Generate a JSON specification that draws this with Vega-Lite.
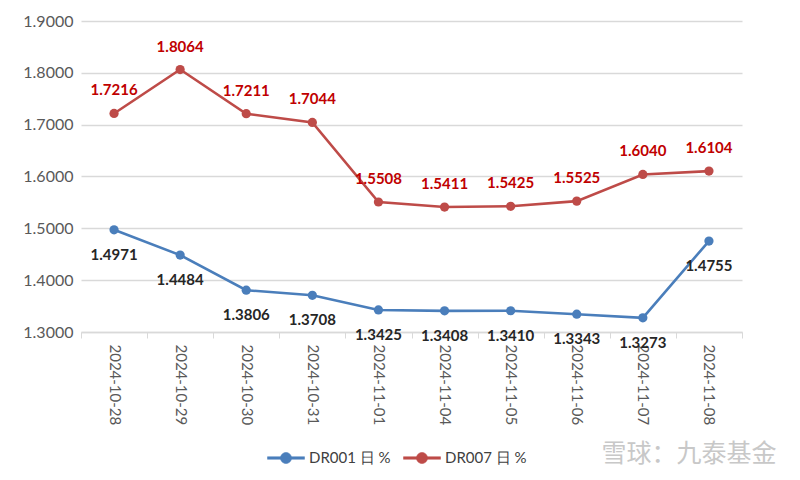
{
  "$schema": "https://vega.github.io/schema/vega-lite/v6.json",
  "autosize": "none",
  "width": 661,
  "height": 311,
  "padding": {"left": 81, "top": 21, "right": 58, "bottom": 148},
  "background": "white",
  "config": {
    "font": "Lato",
    "view": {"stroke": null},
    "axis": {"labelFont": "Lato", "labelColor": "#595959"}
  },
  "title": {
    "text": "雪球：九泰基金",
    "orient": "bottom",
    "anchor": "end",
    "color": "#c8c8c8",
    "fontSize": 25,
    "fontWeight": "normal",
    "font": "Noto Sans CJK SC",
    "offset": -24,
    "dx": 34
  },
  "data": {
    "values": [
      {"date": "2024-10-28", "series": "DR001 日 %", "rate": 1.4971},
      {"date": "2024-10-29", "series": "DR001 日 %", "rate": 1.4484},
      {"date": "2024-10-30", "series": "DR001 日 %", "rate": 1.3806},
      {"date": "2024-10-31", "series": "DR001 日 %", "rate": 1.3708},
      {"date": "2024-11-01", "series": "DR001 日 %", "rate": 1.3425},
      {"date": "2024-11-04", "series": "DR001 日 %", "rate": 1.3408},
      {"date": "2024-11-05", "series": "DR001 日 %", "rate": 1.3410},
      {"date": "2024-11-06", "series": "DR001 日 %", "rate": 1.3343},
      {"date": "2024-11-07", "series": "DR001 日 %", "rate": 1.3273},
      {"date": "2024-11-08", "series": "DR001 日 %", "rate": 1.4755},
      {"date": "2024-10-28", "series": "DR007 日 %", "rate": 1.7216},
      {"date": "2024-10-29", "series": "DR007 日 %", "rate": 1.8064},
      {"date": "2024-10-30", "series": "DR007 日 %", "rate": 1.7211},
      {"date": "2024-10-31", "series": "DR007 日 %", "rate": 1.7044},
      {"date": "2024-11-01", "series": "DR007 日 %", "rate": 1.5508},
      {"date": "2024-11-04", "series": "DR007 日 %", "rate": 1.5411},
      {"date": "2024-11-05", "series": "DR007 日 %", "rate": 1.5425},
      {"date": "2024-11-06", "series": "DR007 日 %", "rate": 1.5525},
      {"date": "2024-11-07", "series": "DR007 日 %", "rate": 1.6040},
      {"date": "2024-11-08", "series": "DR007 日 %", "rate": 1.6104}
    ]
  },
  "encoding": {
    "x": {
      "field": "date",
      "type": "nominal",
      "sort": null,
      "scale": {"paddingInner": 0, "paddingOuter": 0},
      "axis": {
        "title": null,
        "labelAngle": 90,
        "labelFontSize": 15,
        "labelPadding": 6,
        "tickBand": "extent",
        "tickColor": "#d9d9d9",
        "tickSize": 6,
        "domainColor": "#d9d9d9",
        "domainWidth": 1.5,
        "labelColor": "#595959"
      }
    },
    "y": {
      "field": "rate",
      "type": "quantitative",
      "scale": {"domain": [1.3, 1.9], "nice": false, "zero": false},
      "axis": {
        "title": null,
        "values": [1.3, 1.4, 1.5, 1.6, 1.7, 1.8, 1.9],
        "format": ".4f",
        "labelFontSize": 16,
        "labelPadding": 8,
        "ticks": false,
        "domain": false,
        "gridColor": "#d9d9d9",
        "gridWidth": 1.3,
        "labelColor": "#595959"
      }
    }
  },
  "layer": [
    {
      "mark": {
        "type": "line",
        "strokeWidth": 2.6,
        "point": {"filled": true, "size": 85}
      },
      "encoding": {
        "color": {
          "field": "series",
          "type": "nominal",
          "scale": {"domain": ["DR001 日 %", "DR007 日 %"], "range": ["#4A7EBB", "#BE4B48"]},
          "legend": {
            "title": null,
            "orient": "none",
            "legendX": 186,
            "legendY": 418,
            "direction": "horizontal",
            "symbolType": "M-1,-0.07H1V0.07H-1Z M0.3,0A0.3,0.3,0,1,1,-0.3,0A0.3,0.3,0,1,1,0.3,0",
            "symbolSize": 1369,
            "symbolStrokeWidth": 0.5,
            "labelFontSize": 15,
            "labelFont": "Lato",
            "labelColor": "#404040",
            "labelOffset": 4,
            "columnPadding": 11
          }
        }
      }
    },
    {
      "transform": [{"filter": "datum.series == 'DR007 日 %'"}],
      "mark": {"type": "text", "dy": -23, "fontSize": 15, "fontWeight": "bold", "color": "#C00000", "font": "Lato"},
      "encoding": {"text": {"field": "rate", "type": "quantitative", "format": ".4f"}}
    },
    {
      "transform": [{"filter": "datum.series == 'DR001 日 %'"}],
      "mark": {"type": "text", "dy": 25, "fontSize": 15, "fontWeight": "bold", "color": "#262626", "font": "Lato"},
      "encoding": {"text": {"field": "rate", "type": "quantitative", "format": ".4f"}}
    }
  ]
}
